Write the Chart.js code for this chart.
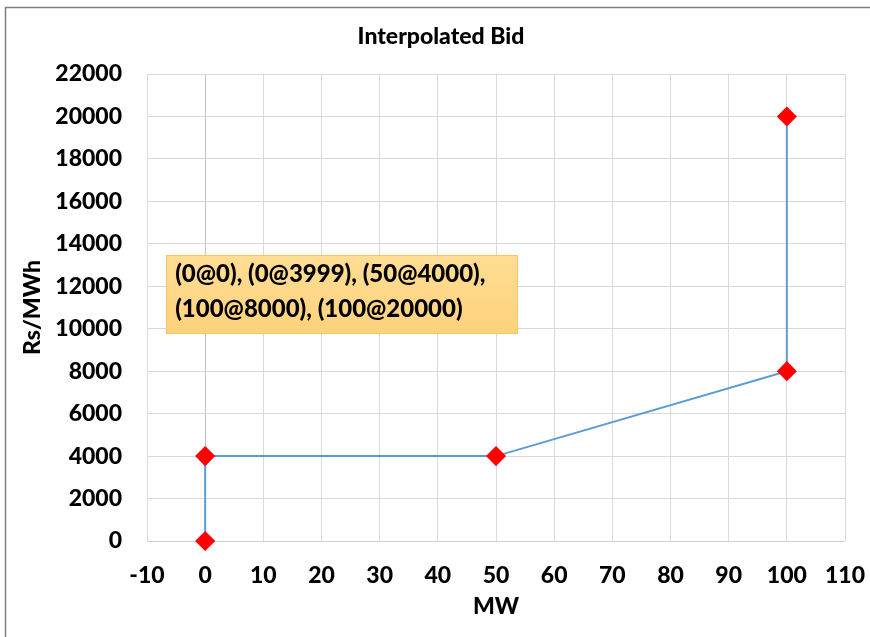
<!DOCTYPE html>
<html>
<head>
<meta charset="utf-8">
<script src="https://cdn.jsdelivr.net/npm/chart.js@4/dist/chart.umd.min.js"></script>
<style>
  html, body { margin: 0; padding: 0; background: #fff; }
  #wrap { width: 870px; height: 637px; position: relative; }
</style>
</head>
<body>
<div id="wrap"><canvas id="c" width="870" height="637"></canvas></div>
<script>
// Bid curve: MW quantity and price (Rs/MWh)
const mwValues = [0, 0, 50, 100, 100];
const priceValues = [0, 3999, 4000, 8000, 20000];

// Axis ranges and steps
const xRange = [-10, 110];
const xStep = 10;
const yRange = [0, 22000];
const yStep = 2000;

// Text
const chartTitle = 'Interpolated Bid';
const xTitle = 'MW';
const yTitle = 'Rs/MWh';
const noteLines = ['(0@0), (0@3999), (50@4000),', '(100@8000), (100@20000)'];
// Note box extent in data units: [xMin, xMax, yMax, yMin]
const noteBox = [-6.7, 53.6, 13470, 9800];

const FONT = 'Lato, "Open Sans", sans-serif';
const WEIGHT = '900';

const decorations = {
  id: 'decorations',
  beforeDraw(chart) {
    const ctx = chart.ctx;
    ctx.save();
    ctx.strokeStyle = '#7f7f7f';
    ctx.lineWidth = 1.5;
    ctx.beginPath();
    ctx.moveTo(5.5, 637);
    ctx.lineTo(5.5, 7.5);
    ctx.lineTo(870, 7.5);
    ctx.stroke();
    ctx.restore();
  },
  afterDraw(chart) {
    const ctx = chart.ctx;
    const xs = chart.scales.x, ys = chart.scales.y;
    ctx.save();
    // title
    ctx.fillStyle = '#000';
    ctx.textAlign = 'center';
    ctx.textBaseline = 'middle';
    ctx.font = WEIGHT + ' 23px ' + FONT;
    ctx.fillText(chartTitle, 441, 37);
    // axis titles
    ctx.font = WEIGHT + ' 23px ' + FONT;
    ctx.fillText(xTitle, (xs.left + xs.right) / 2, 607);
    ctx.save();
    ctx.translate(33, (ys.top + ys.bottom) / 2);
    ctx.rotate(-Math.PI / 2);
    ctx.fillText(yTitle, 0, 0);
    ctx.restore();
    // note box
    const l = xs.getPixelForValue(noteBox[0]);
    const r = xs.getPixelForValue(noteBox[1]);
    const t = ys.getPixelForValue(noteBox[2]);
    const b = ys.getPixelForValue(noteBox[3]);
    const g = ctx.createLinearGradient(0, t, 0, b);
    g.addColorStop(0, '#FFDD94');
    g.addColorStop(1, '#FFD27C');
    ctx.fillStyle = g;
    ctx.fillRect(l, t, r - l, b - t);
    ctx.strokeStyle = '#F7C35C';
    ctx.lineWidth = 1;
    ctx.strokeRect(Math.round(l) + 0.5, Math.round(t) + 0.5, Math.round(r - l), Math.round(b - t));
    ctx.fillStyle = '#000';
    ctx.textAlign = 'left';
    ctx.font = WEIGHT + ' 24px ' + FONT;
    ctx.fillText(noteLines[0], l + 9, t + 19);
    ctx.fillText(noteLines[1], l + 9, t + 54);
    ctx.restore();
  }
};

const points = mwValues.map((x, i) => ({ x, y: priceValues[i] }));

new Chart(document.getElementById('c'), {
  type: 'scatter',
  data: {
    datasets: [{
      data: points,
      showLine: true,
      clip: false,
      borderColor: '#5B9BD5',
      borderWidth: 2,
      pointStyle: 'rectRot',
      pointRadius: 9,
      pointHoverRadius: 9,
      pointBackgroundColor: '#FF0000',
      pointBorderColor: '#FF0000',
      pointBorderWidth: 1.5,
      tension: 0
    }]
  },
  options: {
    responsive: false,
    animation: false,
    layout: { padding: { top: 74, right: 25, bottom: 0, left: 0 } },
    plugins: { legend: { display: false }, tooltip: { enabled: false }, title: { display: false } },
    scales: {
      x: {
        type: 'linear',
        min: xRange[0], max: xRange[1],
        afterFit(s) { s.height = 96; s.paddingLeft = 0; s.paddingRight = 0; },
        border: { display: false },
        grid: {
          drawTicks: false,
          color: ctx => ctx.tick && ctx.tick.value === 0 ? '#BFBFBF' : '#D9D9D9',
          lineWidth: 1
        },
        ticks: {
          stepSize: xStep,
          padding: 21,
          color: '#000',
          font: { family: FONT, weight: WEIGHT, size: 23 },
          maxRotation: 0,
          callback: v => String(v)
        }
      },
      y: {
        type: 'linear',
        min: yRange[0], max: yRange[1],
        afterFit(s) { s.width = 147; s.paddingTop = 0; s.paddingBottom = 0; },
        border: { display: false },
        grid: {
          drawTicks: false,
          color: ctx => ctx.tick && ctx.tick.value === 0 ? '#D0D0D0' : '#D9D9D9',
          lineWidth: 1
        },
        ticks: {
          stepSize: yStep,
          padding: 25,
          color: '#000',
          font: { family: FONT, weight: WEIGHT, size: 23 },
          callback: v => String(v)
        }
      }
    }
  },
  plugins: [decorations]
});
</script>
</body>
</html>
